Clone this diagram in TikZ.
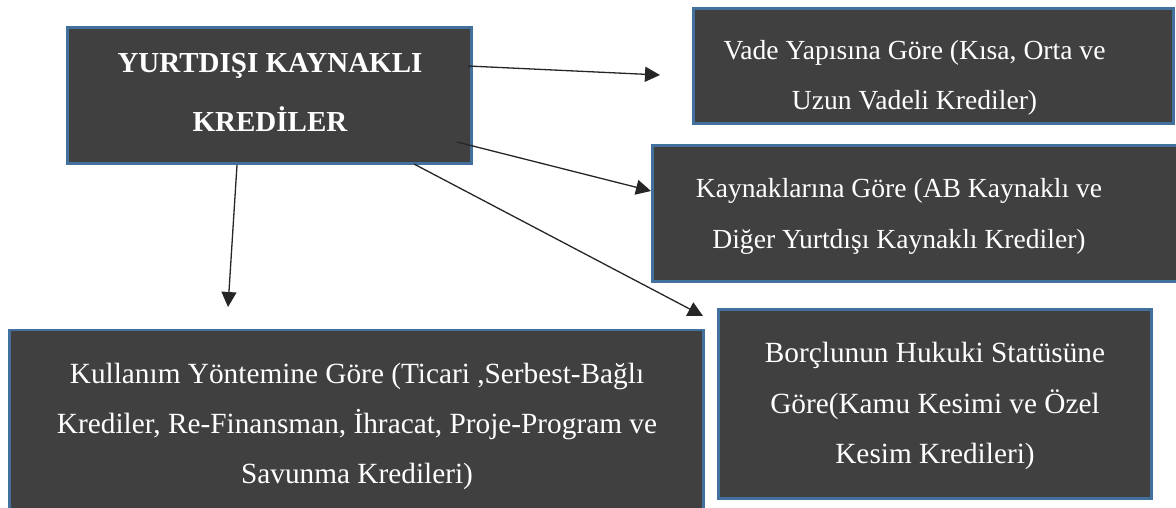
\documentclass[tikz,border=0pt]{standalone}
\usepackage{fontspec}
\setmainfont{Liberation Serif}
\usetikzlibrary{arrows.meta}
\definecolor{boxfill}{RGB}{64,64,64}
\definecolor{boxline}{RGB}{65,113,156}
\definecolor{arrcol}{RGB}{38,38,38}
\tikzset{
  box/.style={draw=boxline, line width=2.6pt, fill=boxfill, inner sep=0pt},
  txt/.style={text=white, anchor=base, inner sep=0pt, font=\fontsize{27.6}{32}\selectfont},
  txtl/.style={txt, font=\fontsize{29.3}{34}\selectfont},
  ttl/.style={text=white, anchor=base, inner sep=0pt, font=\fontsize{29}{34}\selectfont\bfseries},
  arr/.style={draw=arrcol, line width=1.3pt, -{Triangle[length=15pt,width=15pt]}}
}
\begin{document}
\begin{tikzpicture}[x=1pt,y=-1pt]
\useasboundingbox (0,0) rectangle (1176,508);
\clip (0,0) rectangle (1176,508);
% boxes
\node[box, minimum width=404pt, minimum height=136pt] (b1) at (269.5,95.5) {};
\node[box, minimum width=480pt, minimum height=115pt] (b2) at (933.5,66) {};
\node[box, minimum width=526pt, minimum height=136pt] (b3) at (915.5,213.5) {};
\node[box, minimum width=694pt, minimum height=186pt] (b4) at (356.5,423) {};
\node[box, minimum width=433pt, minimum height=189pt] (b5) at (935,404) {};
% texts
\node[ttl] (t1a) at (270,73) {YURTDIŞI KAYNAKLI};
\node[ttl] (t1b) at (270,132) {KREDİLER};
\node[txt] (t2a) at (914.5,60) {Vade Yapısına Göre (Kısa, Orta ve};
\node[txt] (t2b) at (914.5,110) {Uzun Vadeli Krediler)};
\node[txt] (t3a) at (899,197) {Kaynaklarına Göre (AB Kaynaklı ve};
\node[txt] (t3b) at (899,248) {Diğer Yurtdışı Kaynaklı Krediler)};
\node[txtl] (t4a) at (357,383) {Kullanım Yöntemine Göre (Ticari ,Serbest-Bağlı};
\node[txtl] (t4b) at (357,433) {Krediler, Re-Finansman, İhracat, Proje-Program ve};
\node[txtl] (t4c) at (357,483) {Savunma Kredileri)};
\node[txtl] (t5a) at (935,362) {Borçlunun Hukuki Statüsüne};
\node[txtl] (t5b) at (935,413) {Göre(Kamu Kesimi ve Özel};
\node[txtl] (t5c) at (935,463) {Kesim Kredileri)};
% arrow end points
\coordinate (s1) at (468,66);
\coordinate (e1) at (660,75);
\coordinate (s2) at (457,142);
\coordinate (e2) at (651,191);
\coordinate (s3) at (414,164);
\coordinate (e3) at (703,316);
\coordinate (s4) at (237,165);
\coordinate (e4) at (228,307);
\draw[arr] (s1) -- (e1);
\draw[arr] (s2) -- (e2);
\draw[arr] (s3) -- (e3);
\draw[arr] (s4) -- (e4);
\end{tikzpicture}
\end{document}
